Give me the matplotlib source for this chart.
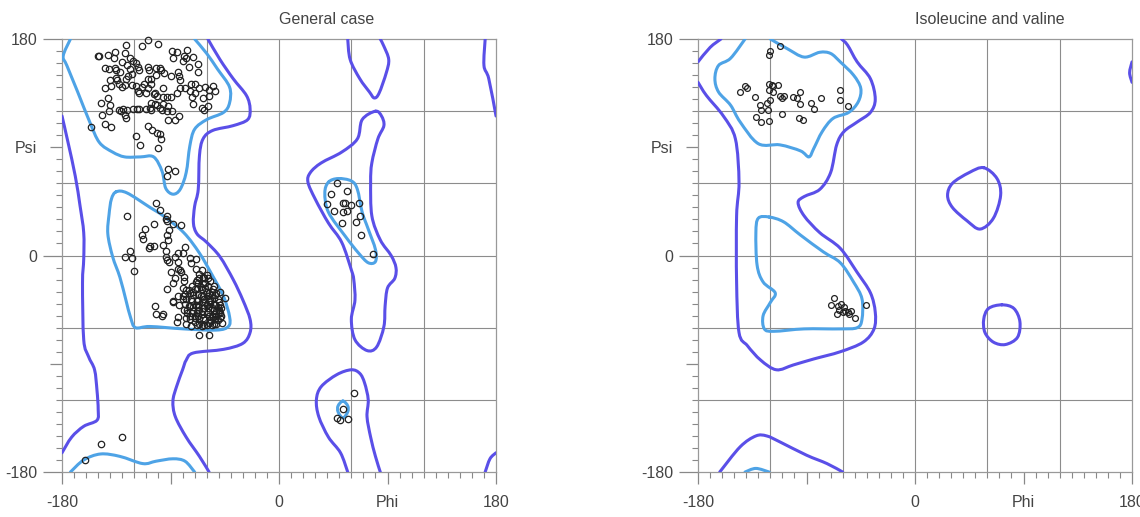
import numpy as np
import matplotlib.pyplot as plt
from matplotlib.path import Path
from matplotlib.patches import PathPatch

plt.rcParams['font.family'] = ['Liberation Sans', 'DejaVu Sans']

# ---- General case: residues (phi, psi) ----
gen_phi = [-109, -100, -114, -127, -150, -149, -142, -136, -128, -124, -121, -119, -117, -130, -137,
           -89, -85, -76, -88, -79, -77, -80, -71, -75, -67, -67,
           -144, -141, -136, -135, -132, -126, -124, -122, -116, -109, -108, -102, -99, -98, -102, -95, -90,
           -84, -83, -82, -73, -70, -66, -61, -55, -53, -58, -58, -63, -70, -72, -71, -64, -62, -59,
           -144, -140, -139, -135, -134, -133, -130, -128, -127, -125, -122, -119, -117, -116, -114, -112,
           -109, -106, -106, -109, -110, -104, -103, -101, -96, -93, -90, -85, -82, -78, -74, -96,
           -148, -142, -140, -147, -141, -133, -131, -129, -128, -127, -126, -121, -118, -116, -110, -107,
           -106, -103, -101, -99, -97, -96, -93, -92, -89, -86, -92, -83, -106,
           -156, -144, -139, -119, -115, -109, -105, -101, -99, -98, -100, -92, -86, -93,
           -102, -99, -93, -94, -93, -126, -104, -88, -81, -111, -114, -113, -91, -93, -92, -107, -104, -108,
           -96, -94, -94, -124, -128, -122, -120, -93, -91, -84, -80, -78, -86, -84, -84, -90, -82, -81,
           -74, -69, -73, -69, -64, -79, -79, -86, -88, -77, -80, -93, -88, -88, -84, -83, -84, -85,
           -103, -102, -97, -96, -74, -66, -58, -49, -45,
           -68, -66, -62, -59, -67, -63, -59, -68, -64, -60, -56, -52, -74, -71, -67, -63, -59, -54, -51,
           -77, -72, -68, -64, -61, -57, -53, -49, -75, -71, -67, -63, -59, -54, -50, -72, -68, -64, -60,
           -56, -52, -48, -66, -61, -57, -53, -78, -80, -76, -70, -61, -54, -51, -49, -62, -58, -67, -70,
           -161, -148, -130,
           62, 53, 48, 51, 57, 78,
           48, 43, 56, 40, 46, 53, 55, 56, 53, 60, 66, 67, 64, 52, 68]
gen_psi = [179, 176, 174, 175, 166, 166, 167, 169, 168, 164, 162, 160, 157, 161, 164,
           170, 169, 171, 164, 166, 164, 162, 165, 157, 159, 153,
           156, 155, 156, 154, 153, 158, 155, 151, 154, 157, 154, 156, 156, 154, 150, 152, 149,
           153, 149, 146, 143, 143, 139, 140, 141, 137, 138, 133, 131, 135, 132, 126, 123, 121, 124,
           139, 146, 141, 148, 146, 143, 140, 142, 147, 149, 142, 141, 137, 135, 140, 143,
           147, 147, 143, 139, 135, 134, 135, 133, 139, 132, 132, 135, 139, 139, 137, 132,
           127, 131, 125, 117, 120, 121, 120, 122, 117, 114, 121, 122, 122, 122, 122, 123,
           127, 126, 125, 123, 121, 126, 120, 124, 120, 113, 113, 116, 121,
           107, 109, 107, 99, 92, 108, 104, 102, 101, 97, 89, 72, 70, 66,
           44, 38, 33, 30, 29, 33, 26, 26, 25, 22, 17, 14, 21, 17, 13, 8, 8, 6,
           9, 4, -1, 4, -1, -2, -13, -4, -5, 2, 2, 7, -1, -5, -11, -14, -12, -14,
           -2, -3, -6, -11, -12, -18, -21, -19, -23, -29, -27, -28, -38, -39, -34, -41, -51, -55,
           -42, -49, -50, -49, -50, -66, -66, -30, -35,
           -20, -19, -19, -19, -23, -24, -25, -28, -28, -30, -30, -31, -31, -33, -32, -34, -34, -35, -36,
           -36, -38, -38, -39, -39, -40, -41, -41, -42, -43, -43, -44, -44, -45, -45, -48, -48, -49, -49,
           -50, -50, -50, -53, -54, -54, -53, -32, -36, -45, -52, -23, -25, -43, -48, -36, -31, -41, -28,
           -170, -157, -151,
           -114, -128, -135, -137, -136, 1,
           60, 51, 54, 43, 37, 44, 44, 37, 36, 42, 44, 33, 28, 27, 17]

# extra residues inside the crowded right-handed helix blob
helix_phi = [-80, -78, -76, -74, -73, -71, -70, -69, -67, -66, -65, -64, -63, -62, -61, -60, -59, -58,
             -57, -56, -55, -54, -53, -52, -51, -50, -49, -48, -47, -75, -72, -69, -66, -63, -60, -57,
             -55, -79, -77, -73, -68, -64, -60, -56, -52, -71, -65, -58, -62, -67, -54, -50, -77, -74,
             -70, -66, -62, -58, -56, -53]
helix_psi = [-34, -40, -48, -53, -36, -46, -55, -41, -50, -57, -34, -46, -52, -58, -27, -41, -47, -56,
             -37, -44, -51, -57, -33, -46, -54, -39, -52, -44, -56, -29, -25, -22, -15, -18, -16, -21,
             -28, -45, -57, -59, -58, -59, -58, -58, -57, -30, -26, -38, -44, -37, -40, -47, -52, -42,
             -50, -45, -36, -50, -33, -49]

# ---- Isoleucine and valine: residues ----
ile_phi = [-112, -120, -121, -145, -141, -139, -133, -121, -119, -118, -114, -121, -118, -112, -110,
           -109, -120, -123, -129, -128, -122, -110, -132, -128, -121, -101, -98, -95, -95, -96, -93,
           -86, -84, -78, -62, -62, -56,
           -67, -70, -64, -61, -59, -63, -60, -65, -56, -53, -55, -50, -41, -58]
ile_psi = [174, 170, 167, 136, 141, 139, 132, 143, 142, 141, 142, 138, 136, 133, 131,
           133, 129, 127, 125, 121, 121, 118, 115, 111, 112, 132, 131, 136, 126, 114, 113,
           127, 122, 131, 138, 129, 124,
           -35, -41, -42, -40, -43, -45, -47, -49, -47, -46, -49, -52, -41, -46]

# ---- contour outlines (phi, psi) ----
gen_core_beta = [(-173, 180), (-179, 166), (-176, 158), (-167, 136), (-157, 111), (-149, 94), (-138, 86),
                 (-128, 82), (-115, 82), (-104, 82), (-97, 70), (-94, 56), (-88, 51), (-82, 55), (-77, 69),
                 (-74, 91), (-70, 105), (-60, 113), (-46, 119), (-41, 127), (-41, 140), (-51, 155),
                 (-60, 168), (-70, 180)]
gen_core_beta_low = [(-173, -180), (-162, -170), (-148, -165), (-132, -167), (-113, -173), (-102, -171),
                     (-88, -169), (-78, -171), (-70, -180)]
gen_core_alpha = [(-135, 53), (-126, 52), (-107, 40), (-96, 33), (-79, 19), (-66, 2), (-55, -17), (-46, -34),
                  (-41, -51), (-42, -59), (-52, -62), (-79, -61), (-107, -59), (-119, -60), (-123, -52),
                  (-127, -37), (-132, -18), (-138, -1), (-142, 18), (-141, 34), (-139, 47)]
gen_core_lalpha = [(41, 61), (49, 64), (60, 62), (65, 55), (69, 36), (74, 22), (80, 5), (80, -5), (74, -6),
                   (66, 2), (55, 16), (41, 36), (38, 52)]
gen_core_gly = [(53, -121), (57, -125), (57, -130), (53, -135), (49, -130), (49, -125)]

gen_allowed_main = [(-59, 180), (-49, 163), (-38, 147), (-27, 133), (-24, 122), (-26, 113), (-38, 108),
                    (-55, 104), (-63, 97), (-66, 83), (-67, 55), (-70, 41), (-71, 27), (-68, 18), (-60, 11),
                    (-49, -1), (-38, -20), (-30, -37), (-24, -53), (-24, -64), (-30, -73), (-46, -78),
                    (-71, -81), (-77, -87), (-80, -95), (-85, -109), (-88, -121), (-86, -134), (-77, -151),
                    (-66, -167), (-58, -180)]
gen_allowed_left = [(-180, 116), (-175, 94), (-169, 66), (-165, 41), (-162, 19), (-162, -3), (-163, -23),
                    (-162, -70), (-158, -84), (-153, -95), (-151, -112), (-150, -128), (-151, -137),
                    (-162, -142), (-172, -151), (-180, -164)]
gen_allowed_edge_top = [(171, 180), (170, 158), (174, 147), (180, 116)]
gen_allowed_edge_low = [(171, -180), (175, -169), (180, -164)]
gen_allowed_lalpha = [(80, 120), (85, 116), (87, 108), (82, 97), (77, 77), (76, 61), (77, 33), (84, 13),
                      (93, 0), (97, -10), (96, -19), (90, -27), (88, -42), (87, -59), (81, -76), (73, -79),
                      (63, -70), (60, -53), (63, -37), (62, -20), (60, -12), (52, 11), (41, 27), (30, 47),
                      (24, 61), (26, 69), (35, 77), (52, 86), (65, 97), (69, 113)]
gen_allowed_top = [(57, 180), (59, 163), (67, 147), (75, 136), (79, 131), (83, 135), (89, 152), (91, 163),
                   (87, 174), (84, 180)]
gen_allowed_low = [(57, -180), (51, -164), (41, -151), (33, -134), (31, -120), (35, -109), (48, -99),
                   (60, -95), (67, -98), (71, -106), (74, -120), (73, -134), (76, -151), (80, -167),
                   (84, -180)]

ile_core_beta = [(-141, 180), (-153, 164), (-163, 158), (-166, 147), (-163, 136), (-153, 125), (-145, 111),
                 (-130, 93), (-112, 92), (-95, 87), (-88, 82), (-84, 89), (-77, 103), (-68, 114), (-55, 119),
                 (-47, 128), (-45, 139), (-51, 150), (-62, 161), (-70, 168), (-79, 169), (-92, 165),
                 (-106, 172), (-120, 180)]
ile_core_beta_low = [(-141, -180), (-132, -177), (-121, -180)]
ile_core_alpha = [(-121, 32), (-130, 31), (-132, 19), (-131, -8), (-126, -22), (-116, -31), (-120, -39),
                  (-126, -50), (-125, -61), (-117, -63), (-92, -61), (-62, -61), (-48, -60), (-44, -53),
                  (-44, -36), (-51, -22), (-62, -6), (-76, 3), (-95, 17), (-109, 28)]
ile_allowed_main = [(-180, 144), (-173, 133), (-159, 116), (-149, 97), (-146, 61), (-148, 33), (-148, -22),
                    (-146, -64), (-139, -75), (-128, -87), (-115, -95), (-101, -91), (-84, -86), (-62, -80),
                    (-43, -72), (-34, -61), (-33, -47), (-37, -31), (-48, -14), (-62, 6), (-79, 19),
                    (-92, 33), (-97, 44), (-92, 49), (-79, 55), (-70, 69), (-65, 92), (-59, 103), (-48, 111),
                    (-37, 119), (-33, 130), (-37, 147), (-48, 161), (-56, 175), (-61, 180)]
ile_allowed_corner = [(-161, 180), (-170, 173), (-180, 161)]
ile_allowed_edge = [(180, 161), (178, 152), (180, 144)]
ile_allowed_low = [(-162, -180), (-145, -159), (-132, -150), (-123, -150), (-112, -155), (-90, -166),
                   (-73, -173), (-60, -180)]
ile_allowed_loop1 = [(57, 73), (68, 64), (71, 50), (65, 31), (54, 22), (43, 29), (31, 40), (27, 50),
                     (31, 60), (45, 69)]
ile_allowed_loop2 = [(72, -41), (82, -44), (87, -55), (85, -68), (75, -74), (65, -72), (58, -64),
                     (57, -53), (61, -44)]

DARK = '#5a4fe8'
LIGHT = '#4ea3e6'
TXT = '#444444'


def smooth(pts, closed):
    p = np.asarray(pts, float)
    if closed:
        p = np.vstack([p[-1], p, p[0], p[1]])
    else:
        p = np.vstack([p[0], p, p[-1]])
    verts = [p[1]]
    codes = [Path.MOVETO]
    for i in range(1, len(p) - 2):
        c1 = p[i] + (p[i + 1] - p[i - 1]) / 6
        c2 = p[i + 1] - (p[i + 2] - p[i]) / 6
        verts += [c1, c2, p[i + 1]]
        codes += [Path.CURVE4] * 3
    return Path(verts, codes)


def draw_line(ax, pts, color, closed=False):
    ax.add_patch(PathPatch(smooth(pts, closed), fill=False, ec=color, lw=2.2,
                           capstyle='round', joinstyle='round', zorder=3))


def setup(ax, title):
    ax.set_xlim(-180, 180)
    ax.set_ylim(-180, 180)
    for v in [-120, -60, 0, 60, 120]:
        ax.axvline(v, color='#8c8c8c', lw=0.8, zorder=1)
        ax.axhline(v, color='#8c8c8c', lw=0.8, zorder=1)
    for s in ax.spines.values():
        s.set_color('#999999')
        s.set_linewidth(0.9)
    ax.set_xticks([-180, -90, 0, 90, 180])
    ax.set_xticklabels(['-180', '', '0', 'Phi', '180'])
    ax.set_yticks([-180, -90, 0, 90, 180])
    ax.set_yticklabels(['-180', '', '0', 'Psi', '180'])
    ax.set_xticks(np.arange(-180, 181, 10), minor=True)
    ax.set_yticks(np.arange(-180, 181, 10), minor=True)
    ax.tick_params(which='major', length=8.6, width=0.9, color='#888888', labelsize=11.5,
                   labelcolor=TXT)
    ax.tick_params(axis='x', which='major', pad=8)
    ax.tick_params(axis='y', which='major', pad=9.4)
    ax.tick_params(which='minor', length=4, width=0.8, color='#888888')
    for i in (0, 2, 4):
        ax.yaxis.get_major_ticks()[i].tick1line.set_markersize(13.7)
    ax.text(0, 1.046, title, transform=ax.get_xaxis_transform(), ha='left', va='center',
            fontsize=11.5, color=TXT)


fig = plt.figure(figsize=(11.4, 5.17), dpi=100)
ax1 = fig.add_axes([0.0544, 0.087, 0.3807, 0.8375])
ax2 = fig.add_axes([0.6123, 0.087, 0.3807, 0.8375])

setup(ax1, 'General case')
for c in [gen_allowed_main, gen_allowed_left, gen_allowed_edge_top, gen_allowed_edge_low,
          gen_allowed_top, gen_allowed_low]:
    draw_line(ax1, c, DARK)
draw_line(ax1, gen_allowed_lalpha, DARK, closed=True)
for c in [gen_core_beta, gen_core_beta_low]:
    draw_line(ax1, c, LIGHT)
for c in [gen_core_alpha, gen_core_lalpha, gen_core_gly]:
    draw_line(ax1, c, LIGHT, closed=True)
ax1.plot(gen_phi + helix_phi, gen_psi + helix_psi, 'o', mfc='none', mec='#222222', ms=4.6, mew=0.9,
         zorder=4, clip_on=False)

setup(ax2, 'Isoleucine and valine')
for c in [ile_allowed_main, ile_allowed_corner, ile_allowed_edge, ile_allowed_low]:
    draw_line(ax2, c, DARK)
for c in [ile_allowed_loop1, ile_allowed_loop2]:
    draw_line(ax2, c, DARK, closed=True)
for c in [ile_core_beta, ile_core_beta_low]:
    draw_line(ax2, c, LIGHT)
draw_line(ax2, ile_core_alpha, LIGHT, closed=True)
ax2.plot(ile_phi, ile_psi, 'o', mfc='none', mec='#222222', ms=4.2, mew=0.9, zorder=4)

fig.savefig('out.png', dpi=100)
